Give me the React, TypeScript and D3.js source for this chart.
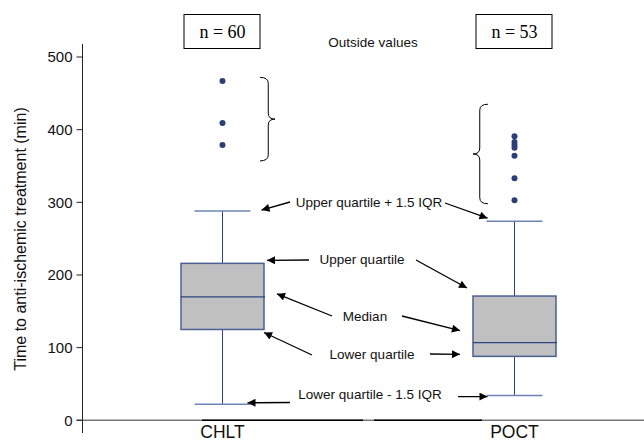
import React from "react";
import * as d3 from "d3";

// ---------- data ----------
const categories = ["CHLT", "POCT"];
const sampleSizes = [60, 53];
const lowerWhisker = [22, 34];
const lowerQuartile = [125, 88];
const medians = [170, 107];
const upperQuartile = [216, 171];
const upperWhisker = [288, 274];
const outliersCHLT = [467, 409, 379];
const outliersPOCT = [391, 383, 379, 375, 364, 333, 303];
const outliers = [outliersCHLT, outliersPOCT];
const braceTop = [472, 435];
const braceBottom = [357, 298];
const yTicks = [0, 100, 200, 300, 400, 500];

const W = 644;
const H = 442;

export default function App() {
  const y = d3.scaleLinear().domain([0, 500]).range([420.3, 57]);
  const x = d3.scalePoint<string>().domain(categories).range([222.5, 514.5]);
  const boxHalf = 41.5;
  const capHalf = 28;
  const axisX = 82.5;
  const blue = "#2d4480";
  const capBlue = "#6e84b6";

  const arrows: { x1: number; y1: number; x2: number; y2: number }[] = [
    // Upper quartile + 1.5 IQR
    { x1: 290, y1: 202, x2: x("CHLT")! + capHalf + 11, y2: y(upperWhisker[0]) - 1 },
    { x1: 445, y1: 203, x2: x("POCT")! - capHalf + 1, y2: y(upperWhisker[1]) - 3 },
    // Upper quartile
    { x1: 309, y1: 260, x2: x("CHLT")! + boxHalf + 3, y2: y(upperQuartile[0]) - 3 },
    { x1: 416, y1: 260, x2: x("POCT")! - boxHalf - 6, y2: y(upperQuartile[1]) - 8 },
    // Median
    { x1: 332, y1: 316, x2: x("CHLT")! + boxHalf + 13, y2: y(medians[0]) - 3 },
    { x1: 402, y1: 316, x2: x("POCT")! - boxHalf - 13, y2: y(medians[1]) - 12 },
    // Lower quartile
    { x1: 312, y1: 355, x2: x("CHLT")! + boxHalf, y2: y(lowerQuartile[0]) + 3 },
    { x1: 430, y1: 354, x2: x("POCT")! - boxHalf - 13, y2: y(lowerQuartile[1]) - 2 },
    // Lower quartile - 1.5 IQR
    { x1: 290, y1: 402.5, x2: x("CHLT")! + capHalf - 3, y2: y(lowerWhisker[0]) - 1.5 },
    { x1: 458, y1: 396.7, x2: x("POCT")! - capHalf + 1, y2: y(lowerWhisker[1]) + 1 },
  ];

  const labels = [
    { text: "Upper quartile + 1.5 IQR", x: 369, y: 207 },
    { text: "Upper quartile", x: 362, y: 264 },
    { text: "Median", x: 365, y: 321 },
    { text: "Lower quartile", x: 372, y: 359 },
    { text: "Lower quartile - 1.5 IQR", x: 370, y: 399 },
  ];

  // curly brace path: vertical, tip pointing in direction dir (+1 right, -1 left)
  const brace = (bx: number, yTop: number, yBot: number, dir: number) => {
    const w = 15 * dir;
    const mid = (yTop + yBot) / 2;
    const r = 6;
    const base = bx;
    const inner = bx + w * 0.55;
    const tip = bx + w;
    return [
      `M${base},${yTop}`,
      `Q${inner},${yTop} ${inner},${yTop + r}`,
      `L${inner},${mid - r}`,
      `Q${inner},${mid} ${tip},${mid}`,
      `Q${inner},${mid} ${inner},${mid + r}`,
      `L${inner},${yBot - r}`,
      `Q${inner},${yBot} ${base},${yBot}`,
    ].join(" ");
  };

  const fontSans = "Liberation Sans, Arial, sans-serif";

  return (
    <svg width={W} height={H} style={{ display: "block", position: "absolute", left: 0, top: 0 }}>
      <defs>
        <marker id="ah" viewBox="0 0 10 10" refX="10" refY="5" markerWidth="10" markerHeight="8" markerUnits="userSpaceOnUse" orient="auto">
          <path d="M0,0 L10,5 L0,10 z" fill="#000" />
        </marker>
      </defs>
      <rect width={W} height={H} fill="#fff" />

      {/* zero baseline */}
      <line x1={axisX - 6} x2={W} y1={y(0)} y2={y(0)} stroke="#777" strokeWidth={1.5} />
      <line x1={202} x2={363} y1={y(0)} y2={y(0)} stroke="#000" strokeWidth={1.5} />
      <line x1={374} x2={482} y1={y(0)} y2={y(0)} stroke="#000" strokeWidth={1.5} />

      {/* y axis */}
      <line x1={axisX} x2={axisX} y1={44} y2={433} stroke="#222" strokeWidth={1} />
      {yTicks.map((t) => (
        <g key={t}>
          <line x1={axisX - 6} x2={axisX} y1={y(t)} y2={y(t)} stroke="#222" strokeWidth={1} />
          <text x={axisX - 10} y={y(t)} dy="0.36em" textAnchor="end" fontFamily={fontSans} fontSize={15} fill="#111">
            {t}
          </text>
        </g>
      ))}
      <text
        transform={`translate(26,${239}) rotate(-90)`}
        textAnchor="middle"
        fontFamily={fontSans}
        fontSize={16}
        fill="#111"
      >
        Time to anti-ischemic treatment (min)
      </text>

      {/* boxes */}
      {categories.map((c, i) => {
        const cx = x(c)!;
        return (
          <g key={c}>
            <line x1={cx} x2={cx} y1={y(upperWhisker[i])} y2={y(upperQuartile[i])} stroke={blue} strokeWidth={1} />
            <line x1={cx} x2={cx} y1={y(lowerQuartile[i])} y2={y(lowerWhisker[i])} stroke={blue} strokeWidth={1} />
            <line x1={cx - capHalf} x2={cx + capHalf} y1={y(upperWhisker[i])} y2={y(upperWhisker[i])} stroke={capBlue} strokeWidth={1.5} />
            <line x1={cx - capHalf} x2={cx + capHalf} y1={y(lowerWhisker[i])} y2={y(lowerWhisker[i])} stroke={capBlue} strokeWidth={1.5} />
            <rect
              x={cx - boxHalf}
              y={y(upperQuartile[i])}
              width={boxHalf * 2}
              height={y(lowerQuartile[i]) - y(upperQuartile[i])}
              fill="#c0c0c0"
              stroke="#4a5f94"
              strokeWidth={1.5}
            />
            <line x1={cx - boxHalf} x2={cx + boxHalf + 1} y1={y(medians[i])} y2={y(medians[i])} stroke={blue} strokeWidth={1.2} />
            {outliers[i].map((v, j) => (
              <circle key={j} cx={cx} cy={y(v)} r={3} fill="#2a3f78" />
            ))}
            <text x={cx} y={438} textAnchor="middle" fontFamily={fontSans} fontSize={17.5} fill="#111">
              {c}
            </text>
            {/* n boxes */}
            <rect x={cx - 38.5} y={14.5} width={76} height={34} fill="#fff" stroke="#000" strokeWidth={1} />
            <text x={cx} y={38} textAnchor="middle" fontFamily="Liberation Serif, Times New Roman, serif" fontSize={18} fill="#000">
              {`n = ${sampleSizes[i]}`}
            </text>
          </g>
        );
      })}

      {/* braces */}
      <path d={brace(260, y(braceTop[0]), y(braceBottom[0]), 1)} fill="none" stroke="#000" strokeWidth={1} />
      <path d={brace(488, y(braceTop[1]), y(braceBottom[1]), -1)} fill="none" stroke="#000" strokeWidth={1} />
      <text x={373} y={47} textAnchor="middle" fontFamily={fontSans} fontSize={13.5} fill="#111">
        Outside values
      </text>

      {/* annotations */}
      {arrows.map((a, i) => (
        <line key={i} x1={a.x1} y1={a.y1} x2={a.x2} y2={a.y2} stroke="#000" strokeWidth={1.3} markerEnd="url(#ah)" />
      ))}
      {labels.map((l) => (
        <text key={l.text} x={l.x} y={l.y} textAnchor="middle" fontFamily={fontSans} fontSize={13.5} fill="#111">
          {l.text}
        </text>
      ))}
    </svg>
  );
}
